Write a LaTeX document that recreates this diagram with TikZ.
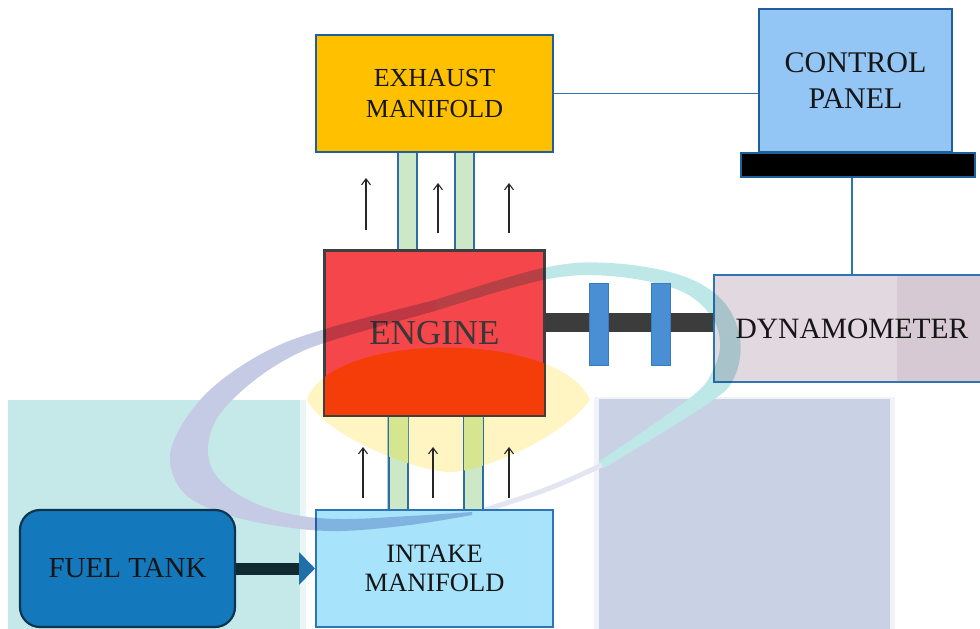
\documentclass[tikz,border=0pt]{standalone}
\usepackage{fontspec}
\setmainfont{Liberation Serif}
\usetikzlibrary{arrows.meta}
\definecolor{exhfill}{HTML}{FFC000}
\definecolor{bblue}{HTML}{1F5F9E}
\definecolor{ctrlfill}{HTML}{93C6F4}
\definecolor{engfill}{HTML}{F5474B}
\definecolor{engorange}{HTML}{F53D0A}
\definecolor{engbord}{HTML}{3F3F3F}
\definecolor{engtxt}{HTML}{383838}
\definecolor{pipefill}{HTML}{CDE8C6}
\definecolor{pipebord}{HTML}{2E6DA4}
\definecolor{pipeyel}{HTML}{D6E590}
\definecolor{intfill}{HTML}{A7E3FB}
\definecolor{intbord}{HTML}{2E75B6}
\definecolor{fuelfill}{HTML}{1479BC}
\definecolor{fuelbord}{HTML}{0E3550}
\definecolor{dynfill}{HTML}{E2D8E0}
\definecolor{dynright}{HTML}{D7C9D4}
\definecolor{coupfill}{HTML}{4A8FD4}
\definecolor{coupbord}{HTML}{3A7BBF}
\definecolor{shaftc}{HTML}{3C3C3C}
\definecolor{tealbg}{HTML}{C5E9E8}
\definecolor{tealedge}{HTML}{E8F6F5}
\definecolor{slatebg}{HTML}{C9D1E5}
\definecolor{slateedge}{HTML}{F2F3F9}
\definecolor{ringlav}{HTML}{C5CAE5}
\definecolor{ringfaint}{HTML}{E3E5F2}
\definecolor{ringteal}{HTML}{BEE8E7}
\definecolor{glow}{HTML}{FFF5C2}
\definecolor{txt}{HTML}{161616}
\definecolor{fuelbarc}{HTML}{0F2A30}
\definecolor{tipblue}{HTML}{1F6FA8}
\newcommand\tealring{plot[smooth, tension=0.6] coordinates {(435,300) (543,268) (610,263) (680,275) (722,300) (740,338) (734,378) (706,405) (604,468)}
  -- plot[smooth, tension=0.6] coordinates {(598,462) (690,398) (713,370) (720,342) (709,313) (676,289) (610,276) (543,280) (435,311)} -- cycle}
\newcommand\lavring{plot[smooth, tension=0.6] coordinates {(435,300) (325,329) (265,352) (212,388) (180,428) (170,462) (186,495) (228,515) (285,527) (340,531) (410,525) (472,515)}
  -- plot[smooth, tension=0.6] coordinates {(472,512) (410,516) (340,519) (290,514) (248,500) (218,478) (208,452) (216,420) (245,388) (285,360) (330,341) (435,311)} -- cycle}
\newcommand\glowpath{(307,400) .. controls (330,330) and (560,330) .. (590,400) .. controls (560,440) and (480,472) .. (450,472) .. controls (420,472) and (330,440) .. (307,400) -- cycle}
\begin{document}
\begin{tikzpicture}[x=1pt,y=-1pt,
  box/.style={draw, line width=2.2pt, inner sep=0pt, align=center, text=txt},
  pipe/.style={draw=pipebord, fill=pipefill, line width=2pt, inner sep=0pt, minimum width=19pt},
  coup/.style={draw=coupbord, fill=coupfill, line width=1pt, inner sep=0pt, minimum width=19pt, minimum height=82pt},
  conn/.style={draw=intbord, line width=1.3pt},
  flow/.style={draw=black!85, line width=1.1pt, -{Straight Barb[length=6pt,width=9pt]}}
]
\clip (0,0) rectangle (980,629);
\fill[white] (0,0) rectangle (980,629);
% background panels
\fill[tealedge] (8,400) rectangle (306,640);
\fill[tealbg] (8,400) rectangle (300,640);
\fill[slateedge] (594,397) rectangle (895,640);
\fill[slatebg] (599,399) rectangle (890,640);
% decorative ring (under boxes)
\fill[ringteal] \tealring;
\fill[ringlav] \lavring;
\draw[ringfaint, line width=5pt] plot[smooth, tension=0.6] coordinates {(602,465) (545,490) (472,514)};
% glow
\fill[glow] \glowpath;

% pipes
\node[pipe, minimum height=99pt] (ep1) at (407.5,201.5) {};
\node[pipe, minimum height=99pt] (ep2) at (464.5,201.5) {};
\node[pipe, minimum height=95pt] (ip1) at (398,462.5) {};
\node[pipe, minimum height=95pt] (ip2) at (473.5,462.5) {};
\begin{scope}
  \clip (ip1.north west) rectangle (ip1.south east) (ip2.north west) rectangle (ip2.south east);
  \fill[pipeyel] \glowpath;
  \draw[pipebord, line width=2pt] (ip1.north west) rectangle (ip1.south east);
  \draw[pipebord, line width=2pt] (ip2.north west) rectangle (ip2.south east);
\end{scope}

% boxes
\node[box, draw=bblue, fill=exhfill, minimum width=237pt, minimum height=117pt,
  font=\fontsize{26}{31}\selectfont] (exh) at (434.5,93.5) {EXHAUST\\MANIFOLD};
\node[box, draw=bblue, fill=ctrlfill, minimum width=193pt, minimum height=143pt,
  font=\fontsize{30}{36}\selectfont] (ctrl) at (855.5,80.5) {CONTROL\\PANEL};
\node[box, draw=bblue, fill=black, line width=1.5pt, minimum width=234pt, minimum height=24pt] (bar) at (858,165) {};
\node[box, draw=engbord, fill=engfill, line width=2pt, minimum width=219pt, minimum height=164pt,
  text=engtxt, font=\fontsize{35}{40}\selectfont] (engine) at (434.5,333) {ENGINE};
\begin{scope}
  \clip (engine.north west) rectangle (engine.south east);
  \fill[engorange] \glowpath;
\end{scope}
\draw[engbord, line width=2pt] (engine.north west) rectangle (engine.south east);

\node[box, draw=intbord, fill=dynfill, line width=2pt, minimum width=276pt, minimum height=107pt,
  path picture={\fill[dynright] (path picture bounding box.north east) ++(-93,0) rectangle (path picture bounding box.south east);},
  font=\fontsize{29.5}{34}\selectfont] (dyn) at (852,328.5) {DYNAMOMETER};
\node[box, draw=intbord, fill=intfill, line width=2pt, minimum width=237pt, minimum height=117pt,
  font=\fontsize{26.5}{29}\selectfont] (intake) at (434.5,568.5) {INTAKE\\MANIFOLD};
\node[box, draw=fuelbord, fill=fuelfill, line width=2.2pt, rounded corners=20pt, minimum width=215pt, minimum height=117pt,
  font=\fontsize{29}{33}\selectfont] (fuel) at (127.5,568.5) {FUEL TANK};

% shaft and couplings
\coordinate (shc) at (0,322.5);
\draw[shaftc, line width=19pt] (engine.east |- shc) -- (dyn.west |- shc);
\node[coup] (c1) at (598.5,324) {};
\node[coup] (c2) at (661,324) {};

% ring overlay on boxes
\begin{scope}[blend mode=multiply]
  \clip (engine.north west) rectangle (engine.south east)
        (dyn.north west) rectangle (dyn.south east)
        (intake.north west) rectangle (intake.south east);
  \fill[ringteal] \tealring;
  \fill[ringlav] \lavring;
\end{scope}

% connectors
\draw[conn] (exh.east) -- (exh.east -| ctrl.west);
\draw[conn] (bar.south -| dyn.north) -- (dyn.north);
\draw[fuelbarc, line width=12pt, -{Triangle[length=16pt,width=32pt,color=tipblue]}] (fuel.east) -- (fuel.east -| intake.west);

% flow arrows
\coordinate (ea1s) at (366,230); \coordinate (ea1e) at (366,178);
\coordinate (ea2s) at (438,233); \coordinate (ea2e) at (438,183);
\coordinate (ea3s) at (509,233); \coordinate (ea3e) at (509,183);
\coordinate (ia1s) at (363,498); \coordinate (ia1e) at (363,447);
\coordinate (ia2s) at (433,498); \coordinate (ia2e) at (433,447);
\coordinate (ia3s) at (509,498); \coordinate (ia3e) at (509,447);
\draw[flow] (ea1s) -- (ea1e);
\draw[flow] (ea2s) -- (ea2e);
\draw[flow] (ea3s) -- (ea3e);
\draw[flow] (ia1s) -- (ia1e);
\draw[flow] (ia2s) -- (ia2e);
\draw[flow] (ia3s) -- (ia3e);
\end{tikzpicture}
\end{document}
